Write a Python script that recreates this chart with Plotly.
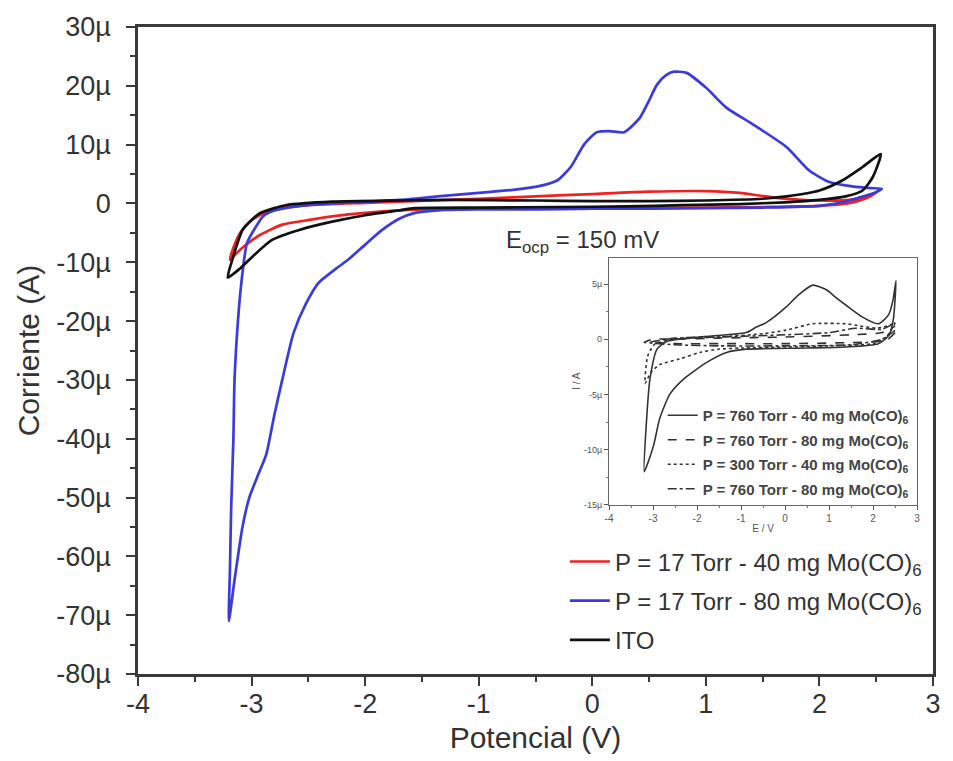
import plotly.graph_objects as go

# ---------------- main chart data (V, µA) ----------------
red_v = [2.50, 2.40, 2.25, 2.00, 1.50, 1.00, 0.00, -1.00, -1.50, -2.00, -2.29, -2.49, -2.73, -2.93, -3.06, -3.13, -3.19,
         -3.15, -3.10, -3.02, -2.93, -2.75, -2.50, -2.00, -1.40, -1.00, -0.50, 0.00, 0.50, 1.00, 1.30, 1.60, 2.00, 2.30, 2.50]
red_i = [1.8, 0.8, 0.0, -0.4, -0.6, -0.7, -0.8, -0.9, -1.0, -1.6, -2.2, -2.8, -3.6, -5.4, -7.2, -8.4, -9.6,
         -7.0, -5.0, -3.2, -2.0, -0.9, -0.3, 0.1, 0.5, 0.8, 1.2, 1.6, 2.0, 2.1, 1.8, 1.0, 0.5, 0.7, 1.8]

blue_v = [2.55, 2.47, 2.35, 2.20, 2.00, 1.50, 1.00, 0.50, 0.00, -0.50, -1.00, -1.30, -1.56, -1.70, -1.85, -2.00, -2.14,
          -2.25, -2.41, -2.52, -2.63, -2.73, -2.80, -2.87, -2.95, -3.02, -3.08, -3.15, -3.20,
          -3.19, -3.18, -3.16, -3.15, -3.12, -3.09, -3.04, -2.96, -2.90, -2.80, -2.60, -2.30, -2.00, -1.70, -1.36,
          -1.00, -0.70, -0.48, -0.31, -0.19, -0.07, 0.04, 0.15, 0.28, 0.42, 0.50, 0.57, 0.65, 0.72, 0.83, 1.00,
          1.18, 1.41, 1.71, 1.91, 2.08, 2.29, 2.45, 2.55]
blue_i = [2.5, 1.7, 1.0, 0.2, -0.4, -0.7, -0.8, -0.9, -0.9, -1.0, -1.0, -1.1, -1.6, -2.6, -4.5, -7.0, -9.4,
          -11.0, -13.5, -17.0, -22.0, -30.0, -36.0, -42.6, -46.5, -50.0, -55.0, -64.0, -71.0,
          -62.0, -52.0, -40.0, -30.0, -20.0, -13.5, -6.7, -3.9, -2.2, -1.2, -0.5, 0.0, 0.3, 0.6, 1.2,
          1.8, 2.3, 2.9, 3.9, 6.2, 10.1, 12.1, 12.3, 12.1, 14.6, 17.5, 20.2, 21.8, 22.4, 22.2, 19.7,
          16.3, 13.5, 9.6, 5.6, 3.7, 2.9, 2.6, 2.5]

ito_v = [2.54, 2.47, 2.38, 2.23, 2.00, 1.70, 1.30, 0.80, 0.30, -0.30, -1.00, -1.56, -1.71, -2.00, -2.29, -2.58, -2.82,
         -2.99, -3.11, -3.21,
         -3.17, -3.12, -3.08, -3.00, -2.93, -2.80, -2.70, -2.29, -1.71, -1.27, -0.50, 0.00, 0.50, 1.00, 1.50, 1.71,
         2.00, 2.20, 2.38, 2.54]
ito_i = [8.4, 4.5, 2.2, 1.2, 0.6, 0.2, -0.1, -0.3, -0.5, -0.6, -0.7, -0.8, -1.2, -2.0, -3.1, -4.5, -6.2,
         -9.0, -11.2, -12.6,
         -9.6, -6.5, -4.5, -2.8, -1.7, -0.8, -0.3, 0.3, 0.5, 0.6, 0.5, 0.4, 0.4, 0.5, 0.8, 1.2,
         2.2, 3.9, 6.2, 8.4]

main_names = ["P = 17 Torr - 40 mg Mo(CO)<sub>6</sub>", "P = 17 Torr - 80 mg Mo(CO)<sub>6</sub>", "ITO"]

# ---------------- inset data (V, µA) ----------------
s1_v = [2.52, 2.46, 2.35, 2.12, 1.38, 0.50, -0.88, -1.33, -1.78, -2.30, -2.62, -2.85, -2.98, -3.10, -3.20,
        -3.15, -3.07, -2.91, -2.69, -1.94, -0.88, -0.65, -0.43, 0.02, 0.30, 0.63, 0.93, 1.15, 1.38, 1.76, 2.12,
        2.35, 2.45, 2.52]
s1_i = [5.3, 1.8, 0.3, -0.4, -0.7, -0.8, -0.9, -1.2, -2.1, -3.6, -5.0, -7.2, -9.5, -11.0, -12.0,
        -7.5, -3.6, -0.9, -0.2, 0.2, 0.6, 1.1, 1.5, 2.9, 4.0, 4.9, 4.5, 3.8, 3.1, 2.0, 1.4,
        2.2, 3.5, 5.3]

s2_v = [2.50, 2.30, 1.50, 0.00, -1.50, -2.50, -3.00, -3.20, -3.00, -2.50, -1.50, 0.00, 1.50, 2.20, 2.50]
s2_i = [0.6, -0.1, -0.3, -0.4, -0.4, -0.4, -0.3, -0.3, 0.0, 0.0, 0.1, 0.2, 0.4, 0.6, 1.2]

s3_v = [2.50, 2.30, 2.00, 1.00, 0.00, -1.00, -1.50, -1.94, -2.40, -2.85, -3.05, -3.18,
        -3.12, -2.95, -2.50, -1.50, -0.50, 0.00, 0.63, 1.38, 1.70, 2.10, 2.40, 2.50]
s3_i = [1.5, 0.2, -0.4, -0.6, -0.7, -0.8, -0.9, -1.2, -1.8, -2.3, -3.0, -4.0,
        -1.5, -0.4, 0.0, 0.2, 0.5, 0.8, 1.4, 1.4, 1.2, 1.0, 1.3, 1.5]

s4_v = [2.50, 2.20, 1.50, 0.00, -1.50, -2.50, -3.10, -2.50, -1.50, 0.00, 1.00, 1.60, 2.20, 2.50]
s4_i = [0.8, 0.0, -0.5, -0.6, -0.6, -0.5, -0.3, 0.1, 0.2, 0.4, 0.6, 1.0, 0.9, 1.5]

inset_names = ["P = 760 Torr - 40 mg Mo(CO)<sub>6</sub>", "P = 760 Torr - 80 mg Mo(CO)<sub>6</sub>",
               "P = 300 Torr - 40 mg Mo(CO)<sub>6</sub>", "P = 760 Torr - 80 mg Mo(CO)<sub>6</sub>"]

# ---------------- ticks ----------------
main_x_ticks = [-4, -3, -2, -1, 0, 1, 2, 3]
main_x_text = ["-4", "-3", "-2", "-1", "0", "1", "2", "3"]
main_y_ticks = [30, 20, 10, 0, -10, -20, -30, -40, -50, -60, -70, -80]
main_y_text = ["30µ", "20µ", "10µ", "0", "-10µ", "-20µ", "-30µ", "-40µ", "-50µ", "-60µ", "-70µ", "-80µ"]
inset_y_ticks = [5, 0, -5, -10, -15]
inset_y_text = ["5µ", "0", "-5µ", "-10µ", "-15µ"]

FONT = "Liberation Sans, Arial, sans-serif"
AX = "#3a3a3a"

fig = go.Figure()

main_colors = ["#ee2222", "#3b3bdc", "#111111"]
for k, (vx, iy) in enumerate([(red_v, red_i), (blue_v, blue_i), (ito_v, ito_i)]):
    fig.add_trace(go.Scatter(x=vx, y=iy, mode="lines", name=main_names[k],
                             line=dict(color=main_colors[k], width=2.7, shape="spline", smoothing=0.6),
                             legendgroup="m%d" % k, xaxis="x", yaxis="y", legend="legend"))

inset_dash = ["solid", "dash", "dot", "dashdot"]
for k, (vx, iy) in enumerate([(s1_v, s1_i), (s2_v, s2_i), (s3_v, s3_i), (s4_v, s4_i)]):
    fig.add_trace(go.Scatter(x=vx, y=iy, mode="lines", name=inset_names[k],
                             line=dict(color="#333333", width=1.6, dash=inset_dash[k], shape="spline", smoothing=0.6),
                             legendgroup="i%d" % k, xaxis="x2", yaxis="y2", legend="legend2"))

fig.add_annotation(x=-0.78, y=-6.4, xref="x", yref="y", xanchor="left", yanchor="middle",
                   text="E<sub>ocp</sub> = 150 mV", showarrow=False,
                   font=dict(family=FONT, size=24, color="#333"))

fig.update_layout(
    width=953, height=761,
    margin=dict(l=138, r=15, t=22, b=84),
    paper_bgcolor="white", plot_bgcolor="white",
    font=dict(family=FONT, color="#333"),
    xaxis=dict(domain=[0, 1], range=[-4, 3], tickmode="array", tickvals=main_x_ticks, ticktext=main_x_text,
               ticks="outside", ticklen=9, tickwidth=2, tickcolor=AX, ticklabelstandoff=-5,
               minor=dict(ticks="outside", ticklen=5, tickwidth=1.5, tickcolor=AX, tickmode="linear", tick0=-3.5, dtick=1),
               showline=True, linecolor=AX, linewidth=2.5, mirror=True, showgrid=False, zeroline=False,
               tickfont=dict(size=27, color="#333"),
               title=dict(text="Potencial (V)", font=dict(size=30, color="#333"), standoff=9)),
    yaxis=dict(domain=[0, 1], range=[-80, 30], tickmode="array", tickvals=main_y_ticks, ticktext=main_y_text,
               ticks="outside", ticklen=9, tickwidth=2, tickcolor=AX, ticklabelstandoff=10,
               minor=dict(ticks="outside", ticklen=5, tickwidth=1.5, tickcolor=AX, tickmode="linear", tick0=-75, dtick=10),
               showline=True, linecolor=AX, linewidth=2.5, mirror=True, showgrid=False, zeroline=False,
               tickfont=dict(size=27, color="#333"),
               title=dict(text="Corriente (A)", font=dict(size=30, color="#333"), standoff=8)),
    xaxis2=dict(domain=[0.5925, 0.98], anchor="y2", range=[-4, 3], tickmode="array", tickvals=main_x_ticks,
                ticktext=main_x_text, ticks="outside", ticklen=4, tickcolor="#555",
                minor=dict(ticks="outside", ticklen=2, tickcolor="#777", tickmode="linear", tick0=-3.5, dtick=1),
                showline=True, linecolor="#666", linewidth=1.2, mirror=True, showgrid=False, zeroline=False,
                tickfont=dict(size=10, color="#555"),
                title=dict(text="E / V", font=dict(size=10, color="#555"), standoff=2)),
    yaxis2=dict(domain=[0.2615, 0.6437], anchor="x2", range=[-15, 7.4], tickmode="array", tickvals=inset_y_ticks,
                ticktext=inset_y_text, ticks="outside", ticklen=4, tickcolor="#555",
                minor=dict(ticks="outside", ticklen=2, tickcolor="#777", tickmode="linear", tick0=-12.5, dtick=5),
                showline=True, linecolor="#666", linewidth=1.2, mirror=True, showgrid=False, zeroline=False,
                tickfont=dict(size=9, color="#555"),
                title=dict(text="I / A", font=dict(size=10, color="#555"), standoff=1)),
    legend=dict(x=0.537, xanchor="left", y=0.208, yanchor="top", bgcolor="rgba(0,0,0,0)",
                font=dict(size=24, color="#333"), tracegroupgap=5, traceorder="grouped", itemwidth=40),
    legend2=dict(x=0.66, xanchor="left", y=0.425, yanchor="top", bgcolor="rgba(0,0,0,0)",
                 font=dict(size=15, color="#444", weight="bold"), tracegroupgap=2, traceorder="grouped", itemwidth=30),
    showlegend=True,
)

fig.write_html("out.html")
